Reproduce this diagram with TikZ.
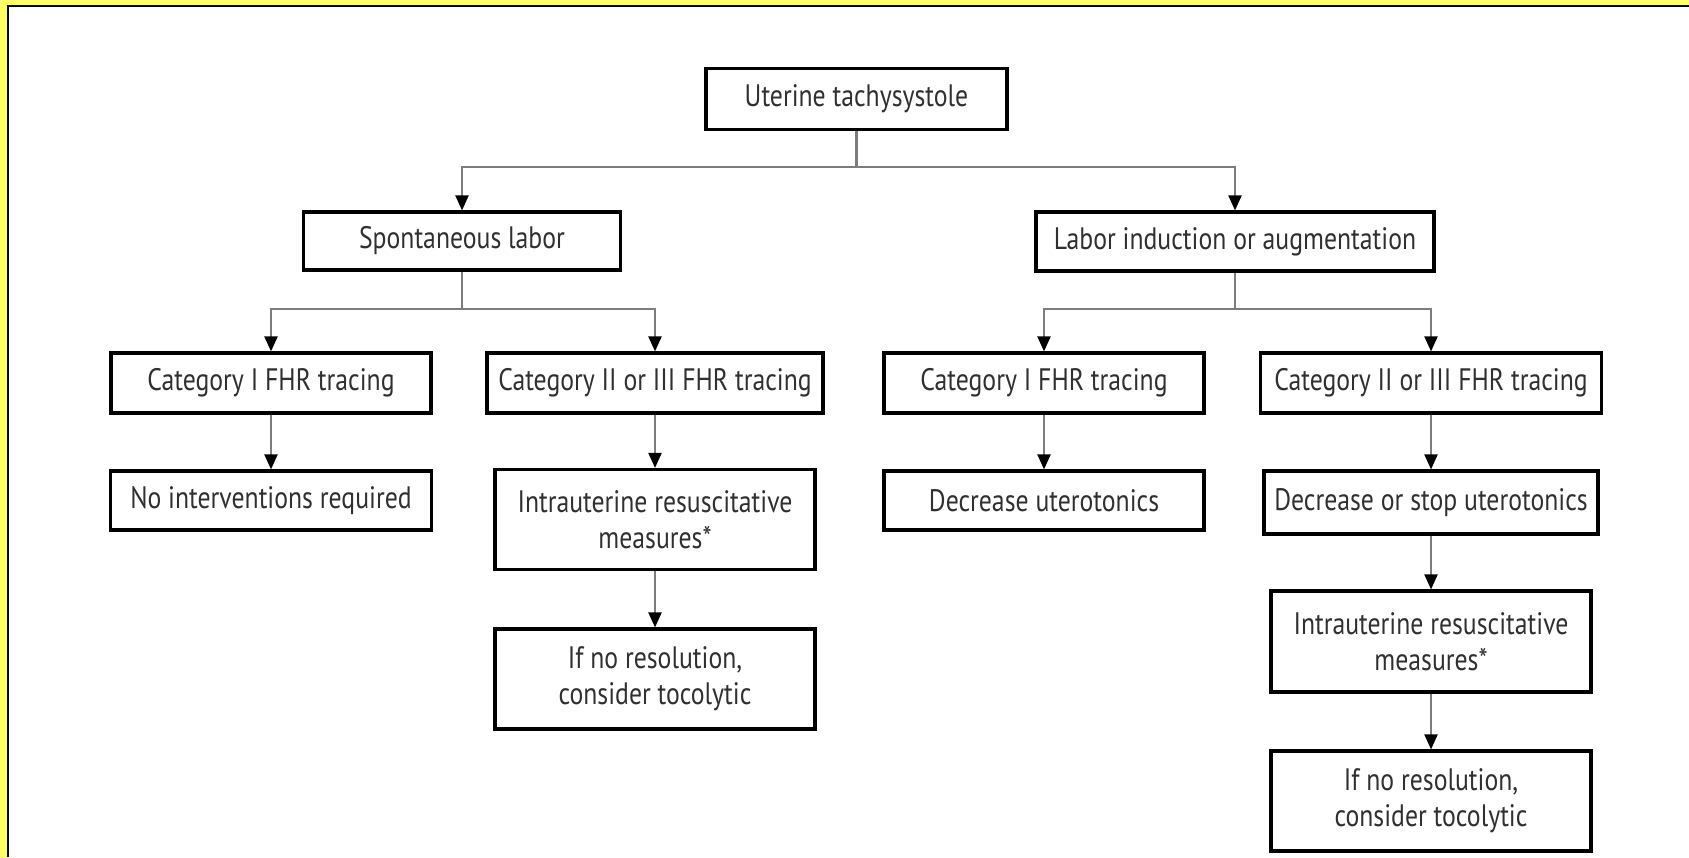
\documentclass[tikz,border=0pt]{standalone}
\usepackage{fontspec}
\setmainfont[FakeStretch=0.83]{PT Sans}
\usetikzlibrary{arrows.meta}
\definecolor{frameyellow}{RGB}{255,255,102}
\definecolor{textgray}{RGB}{48,48,48}
\definecolor{linegray}{RGB}{125,125,125}

\begin{document}
\begin{tikzpicture}[x=0.5pt, y=-0.5pt,
    box/.style={draw=black, line width=1.6pt, fill=white, text=textgray, align=center,
        inner sep=0pt, font=\fontsize{15.5}{18}\selectfont},
    conn/.style={draw=linegray, line width=1.1pt},
    arr/.style={conn, -{Triangle[width=6.5pt,length=7.5pt,color=black]}}]
    \useasboundingbox (0,0) rectangle (1689,857);
    \fill[frameyellow] (0,0) rectangle (1689,857);
    \fill[white] (8,6) rectangle (1689,857);
    \draw[line width=1.3pt] (8,857) -- (8,6) -- (1689,6);

    % top level
    \node[box, minimum width=150.5pt, minimum height=30.5pt] (tachy) at (856.5,99) {Uterine tachysystole};
    \node[box, minimum width=158.5pt, minimum height=29pt] (spont) at (462,241) {Spontaneous labor};
    \node[box, minimum width=199pt, minimum height=29.5pt] (induct) at (1235,241.5) {Labor induction or augmentation};

    % spontaneous labor
    \node[box, minimum width=160pt, minimum height=30pt] (catIL) at (271,383) {Category I FHR tracing};
    \node[box, minimum width=168pt, minimum height=30pt] (catIIL) at (655,383) {Category II or III FHR tracing};
    \node[box, minimum width=160.5pt, minimum height=29.5pt] (noint) at (271,500.5) {No interventions required};
    \node[box, minimum width=160pt, minimum height=50pt] (resusL) at (655,519.5) {Intrauterine resuscitative\\measures*};
    \node[box, minimum width=160pt, minimum height=50pt] (tocoL) at (655,679) {If no resolution,\\consider tocolytic};

    % induction or augmentation
    \node[box, minimum width=160pt, minimum height=30pt] (catIR) at (1044,383) {Category I FHR tracing};
    \node[box, minimum width=170.5pt, minimum height=30pt] (catIIR) at (1431,383) {Category II or III FHR tracing};
    \node[box, minimum width=160pt, minimum height=29.5pt] (decut) at (1044,500.5) {Decrease uterotonics};
    \node[box, minimum width=167pt, minimum height=31.5pt] (stoput) at (1431,502.5) {Decrease or stop uterotonics};
    \node[box, minimum width=160pt, minimum height=50.5pt] (resusR) at (1431,641.5) {Intrauterine resuscitative\\measures*};
    \node[box, minimum width=160pt, minimum height=50pt] (tocoR) at (1431,801) {If no resolution,\\consider tocolytic};

    % branches
    \draw[conn] (tachy.south) -- ++(0,36) coordinate (tachysplit);
    \draw[arr] (tachysplit) -| (spont.north);
    \draw[arr] (tachysplit) -| (induct.north);
    \draw[conn] (spont.south) -- ++(0,37) coordinate (spontsplit);
    \draw[arr] (spontsplit) -| (catIL.north);
    \draw[arr] (spontsplit) -| (catIIL.north);
    \draw[conn] (induct.south) -- ++(0,36.5) coordinate (inductsplit);
    \draw[arr] (inductsplit) -| (catIR.north);
    \draw[arr] (inductsplit) -| (catIIR.north);

    % straight steps
    \draw[arr] (catIL.south) -- (noint.north);
    \draw[arr] (catIIL.south) -- (resusL.north);
    \draw[arr] (resusL.south) -- (tocoL.north);
    \draw[arr] (catIR.south) -- (decut.north);
    \draw[arr] (catIIR.south) -- (stoput.north);
    \draw[arr] (stoput.south) -- (resusR.north);
    \draw[arr] (resusR.south) -- (tocoR.north);
\end{tikzpicture}
\end{document}
